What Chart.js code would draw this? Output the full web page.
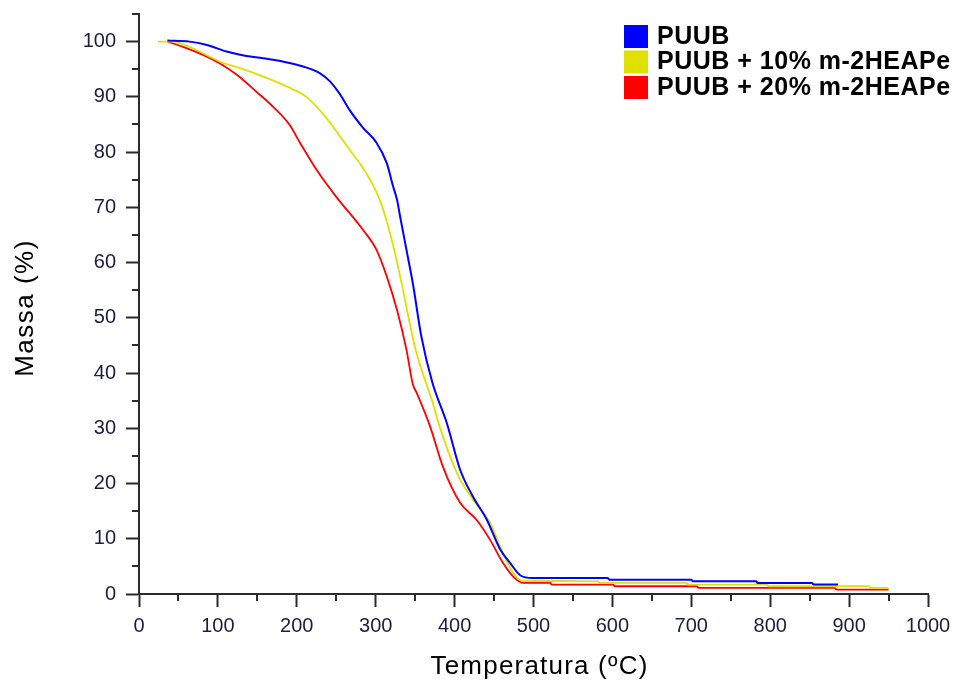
<!DOCTYPE html>
<html>
<head>
<meta charset="utf-8">
<script src="https://cdn.jsdelivr.net/npm/chart.js@4.4.1/dist/chart.umd.min.js"></script>
<style>
  body { margin: 0; background: #fff; }
  canvas { display: block; }
</style>
</head>
<body>
<canvas id="tgaChart" width="954" height="687"></canvas>
<script>
// TGA curves: temperature (ºC) and mass (%)
var seriesNames = ['PUUB', 'PUUB + 10% m-2HEAPe', 'PUUB + 20% m-2HEAPe'];

var blueTemp = [36, 64, 86, 111, 136, 157, 182, 208, 229, 242, 255, 267, 284, 301, 314, 322, 327, 331, 339, 347, 358, 372, 390, 407, 423, 441, 458, 470, 483, 499, 594, 596, 700, 702, 782, 784, 853, 855, 886];
var blueMass = [100.2, 100, 99.4, 98.2, 97.4, 97, 96.4, 95.5, 94.3, 92.8, 90.4, 87.6, 84.4, 81.7, 78, 73.8, 71.4, 68.3, 62.3, 56.3, 46.5, 38.2, 31, 22.5, 17.7, 13.4, 8, 5.7, 3.4, 2.9, 2.9, 2.6, 2.6, 2.3, 2.3, 2, 2, 1.7, 1.7];

var yellowTemp = [24, 43, 68, 102, 128, 157, 187, 212, 229, 246, 255, 268, 288, 305, 318, 331, 343, 351, 360, 371, 381, 403, 423, 445, 461, 474, 485, 582, 584, 694, 696, 796, 798, 925, 927, 950];
var yellowMass = [100, 100, 98.8, 96.4, 95.2, 93.7, 91.9, 90, 87.6, 84.6, 82.8, 80.2, 76.2, 71.4, 65.4, 57.5, 49.1, 44, 39.8, 35.2, 30.3, 21.9, 17.1, 12.9, 7.5, 3.9, 2.4, 2.3, 2, 2, 1.7, 1.7, 1.4, 1.4, 1.1, 1.1];

var redTemp = [36, 55, 81, 102, 124, 149, 170, 191, 204, 212, 225, 250, 284, 301, 314, 327, 339, 347, 352, 369, 385, 407, 428, 445, 461, 474, 487, 521, 523, 601, 603, 707, 709, 882, 884, 950];
var redMass = [100, 99.1, 97.6, 96.1, 94, 90.9, 88.2, 84.9, 81.7, 79.8, 76.8, 71.9, 65.9, 62.3, 57.5, 51.4, 44.2, 38, 36.4, 30.3, 23.1, 16.5, 13.4, 9.8, 5.7, 3.2, 2, 2, 1.7, 1.7, 1.4, 1.4, 1.1, 1.1, 0.8, 0.8];

var seriesColors = ['#0000ff', '#e0e000', '#ff0000'];

var xTicksMajor = [0, 100, 200, 300, 400, 500, 600, 700, 800, 900, 1000];
var yTicksMajor = [0, 10, 20, 30, 40, 50, 60, 70, 80, 90, 100];

var xTitle = 'Temperatura (ºC)';
var yTitle = 'Massa (%)';

var axisColor = '#2b2b2b';
var labelColor = '#1c1c44';
var fontName = '"Liberation Sans", Arial, sans-serif';

function toPoints(xs, ys) {
    var pts = [];
    for (var i = 0; i < xs.length; i++) {
        pts.push({ x: xs[i], y: ys[i] });
    }
    return pts;
}

// minor ticks, axis titles and the square legend
const decorPlugin = {
    id: 'decor',
    afterDraw(chart) {
        const ctx = chart.ctx;
        const xs = chart.scales.x;
        const ys = chart.scales.y;
        const area = chart.chartArea;
        ctx.save();
        ctx.strokeStyle = axisColor;
        ctx.lineWidth = 2;
        ctx.beginPath();
        for (var v = 50; v < 1000; v += 100) {
            var px = Math.round(xs.getPixelForValue(v));
            ctx.moveTo(px, area.bottom);
            ctx.lineTo(px, area.bottom + 7);
        }
        for (var w = 5; w <= 105; w += 10) {
            var py = Math.round(ys.getPixelForValue(w));
            ctx.moveTo(area.left, py);
            ctx.lineTo(area.left - 7, py);
        }
        ctx.stroke();

        ctx.fillStyle = '#000';
        ctx.font = '26px ' + fontName;
        ctx.textAlign = 'center';
        ctx.textBaseline = 'middle';
        ctx.letterSpacing = '1.2px';
        ctx.fillText(xTitle, (area.left + area.right) / 2 + 6, chart.height - 20);
        ctx.save();
        ctx.letterSpacing = '1.5px';
        ctx.translate(26, (area.top + area.bottom) / 2 + 4);
        ctx.rotate(-Math.PI / 2);
        ctx.fillText(yTitle, 0, 0);
        ctx.restore();

        ctx.letterSpacing = '0.5px';
        ctx.font = 'bold 25px ' + fontName;
        ctx.textAlign = 'left';
        var boxX = area.right - 304;
        chart.data.datasets.forEach(function (ds, i) {
            var top = 25 + i * 25.5;
            ctx.fillStyle = ds.borderColor;
            ctx.fillRect(boxX, top, 24, 23);
            ctx.fillStyle = '#000';
            ctx.fillText(ds.label, boxX + 33, top + 12);
        });
        ctx.restore();
    }
};

const config = {
    type: 'line',
    data: {
        datasets: seriesNames.map(function (name, i) {
            var xs = [blueTemp, yellowTemp, redTemp][i];
            var ys = [blueMass, yellowMass, redMass][i];
            return {
                label: name,
                data: toPoints(xs, ys),
                borderColor: seriesColors[i],
                backgroundColor: seriesColors[i],
                borderWidth: i === 0 ? 2 : 1.8,
                pointRadius: 0,
                cubicInterpolationMode: 'monotone',
                fill: false
            };
        })
    },
    options: {
        responsive: false,
        animation: false,
        layout: { padding: { top: 14, right: 26, left: 0, bottom: 0 } },
        plugins: {
            legend: { display: false },
            tooltip: { enabled: false }
        },
        scales: {
            x: {
                type: 'linear',
                min: 0,
                max: 1000,
                afterFit: function (scale) {
                    scale.height = 93;
                    scale.paddingLeft = 0;
                    scale.paddingRight = 0;
                },
                afterBuildTicks: function (scale) {
                    scale.ticks = xTicksMajor.map(function (v) { return { value: v }; });
                },
                grid: { display: true, drawOnChartArea: false, tickLength: 13, tickColor: axisColor, tickWidth: 2 },
                border: { display: true, color: axisColor, width: 2 },
                ticks: {
                    color: labelColor,
                    font: { family: fontName, size: 20 },
                    padding: 7,
                    maxRotation: 0,
                    callback: function (value) { return String(value); }
                }
            },
            y: {
                type: 'linear',
                min: 0,
                max: 105,
                afterFit: function (scale) {
                    scale.width = 139;
                    scale.paddingTop = 0;
                    scale.paddingBottom = 0;
                },
                afterBuildTicks: function (scale) {
                    scale.ticks = yTicksMajor.map(function (v) { return { value: v }; });
                },
                grid: { display: true, drawOnChartArea: false, tickLength: 13, tickColor: axisColor, tickWidth: 2 },
                border: { display: true, color: axisColor, width: 2 },
                ticks: { color: labelColor, font: { family: fontName, size: 20 }, padding: 10 }
            }
        }
    },
    plugins: [decorPlugin]
};

const ctx = document.getElementById('tgaChart').getContext('2d');
new Chart(ctx, config);
</script>
</body>
</html>
